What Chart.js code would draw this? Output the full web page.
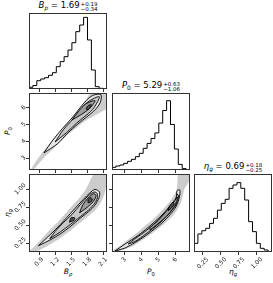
<!DOCTYPE html>
<html>
<head>
<meta charset="utf-8">
<script src="https://cdn.jsdelivr.net/npm/chart.js@4.4.1/dist/chart.umd.min.js"></script>
<style>
html, body { margin: 0; padding: 0; background: #fff; }
#fig { position: relative; width: 273px; height: 283px; overflow: hidden; font-family: 'DejaVu Sans', sans-serif; color: #000; }
#fig canvas { position: absolute; }
.ttl { position: absolute; text-align: center; font-size: 8.5px; line-height: 10px; white-space: nowrap; }
.lbl { position: absolute; font-size: 7.5px; line-height: 9px; white-space: nowrap; transform: translate(-50%, -50%); }
.lbl.rot { transform: translate(-50%, -50%) rotate(-90deg); }
.ss { display: inline-block; vertical-align: -3px; font-size: 5.5px; line-height: 5px; text-align: left; margin-left: 1px; }
.ss span { display: block; }
sub { font-size: 70%; vertical-align: -2px; line-height: 0; }
</style>
</head>
<body>
<div id="fig">
  <div class="ttl" style="left:29px;top:0px;width:78px"><i>B<sub>p</sub></i> = 1.69<span class="ss"><span>+0.19</span><span>&minus;0.34</span></span></div>
  <div class="ttl" style="left:112px;top:80px;width:78px"><i>P</i><sub>0</sub> = 5.29<span class="ss"><span>+0.63</span><span>&minus;1.06</span></span></div>
  <div class="ttl" style="left:194px;top:161px;width:78px"><i>&eta;<sub>g</sub></i> = 0.69<span class="ss"><span>+0.18</span><span>&minus;0.25</span></span></div>
  <div class="lbl" style="left:68px;top:271px"><i>B<sub>p</sub></i></div>
  <div class="lbl" style="left:151px;top:271px"><i>P</i><sub>0</sub></div>
  <div class="lbl" style="left:233px;top:271px"><i>&eta;<sub>g</sub></i></div>
  <div class="lbl rot" style="left:7px;top:131px"><i>P</i><sub>0</sub></div>
  <div class="lbl rot" style="left:7px;top:213px"><i>&eta;<sub>g</sub></i></div>
</div>
<script>
// axis ranges and ticks
const bpRange = [0.71, 2.175];
const p0Range = [2.29, 6.88];
const etaRange = [0.125, 1.21];
const bpTicks = [0.9, 1.2, 1.5, 1.8, 2.1];
const bpTickLabels = ['0.9', '1.2', '1.5', '1.8', '2.1'];
const p0Ticks = [3, 4, 5, 6];
const p0TickLabels = ['3', '4', '5', '6'];
const etaTicks = [0.25, 0.5, 0.75, 1.0];
const etaTickLabels = ['0.25', '0.50', '0.75', '1.00'];

// 1D histograms (20 bins over each range)
const bpCounts = [1, 2.5, 5, 12, 14.5, 16.4, 19.8, 23.6, 32.3, 39.6, 46.8, 56.4, 67, 83, 92.6, 103.7, 71, 27.5, 3.4, 1];
const p0Counts = [1, 3.8, 5.7, 7.1, 9.5, 12.4, 15.2, 19, 23.8, 31, 38, 45, 53, 67, 85, 99, 65, 30, 8, 2];
const etaCounts = [3.8, 12.2, 25.4, 30, 33.4, 40.4, 47.5, 59, 68.6, 74.3, 89.8, 94.5, 97.8, 89.8, 73.3, 42.8, 28.7, 12.2, 5.2, 2.8];

// B_p vs P_0 : sample cloud and contour outlines
const bpP0Cloud = [[0.74,2.3],[0.85,2.85],[1.0,3.5],[1.3,4.6],[1.5,5.35],[1.76,6.35],[1.9,7.0],[2.25,7.0],[2.25,6.2],[2.04,5.7],[1.76,5.2],[1.5,4.55],[1.29,3.95],[1.0,3.05],[0.85,2.5],[0.77,2.24],[0.74,2.3]];
const bpP0Outer = [[0.99,3.31],[1.16,4.08],[1.34,4.77],[1.52,5.40],[1.67,6.00],[1.79,6.45],[1.92,6.75],[2.06,6.78],[2.05,6.33],[1.96,5.91],[1.82,5.52],[1.63,5.04],[1.43,4.47],[1.24,3.84],[0.99,3.31]];
const bpP0Mid = [[1.20,3.96],[1.36,4.71],[1.54,5.34],[1.69,5.93],[1.82,6.36],[2.03,6.66],[1.93,6.00],[1.80,5.59],[1.61,5.10],[1.42,4.53],[1.20,3.96]];
const bpP0Inner = [[1.52,5.28],[1.64,5.79],[1.78,6.24],[1.95,6.42],[1.86,6.00],[1.70,5.61],[1.52,5.28]];
const bpP0Core = [[1.78,5.94],[1.82,6.12],[1.88,6.18],[1.86,6.00],[1.82,5.88],[1.78,5.94]];

// B_p vs eta_g
const bpEtaCloud = [[0.72,0.10],[0.9,0.15],[1.1,0.23],[1.3,0.32],[1.5,0.43],[1.7,0.55],[1.85,0.64],[1.98,0.73],[2.08,0.84],[2.15,1.0],[2.15,1.3],[2.0,1.3],[1.88,1.15],[1.78,1.0],[1.66,0.88],[1.5,0.75],[1.3,0.58],[1.1,0.43],[0.95,0.31],[0.82,0.21],[0.72,0.14],[0.72,0.10]];
const bpEtaOuter = [[0.887,0.213],[1.106,0.292],[1.294,0.375],[1.481,0.476],[1.669,0.593],[1.825,0.685],[1.95,0.778],[2.031,0.894],[2.031,0.963],[1.95,0.995],[1.856,0.949],[1.731,0.857],[1.575,0.731],[1.388,0.579],[1.2,0.431],[1.013,0.301],[0.887,0.213]];
const bpEtaMid = [[1.1,0.31],[1.3,0.405],[1.5,0.515],[1.68,0.62],[1.83,0.71],[1.95,0.81],[2.0,0.90],[1.97,0.955],[1.9,0.95],[1.8,0.89],[1.68,0.79],[1.52,0.65],[1.35,0.53],[1.2,0.41],[1.1,0.31]];
const bpEtaInner = [[1.66,0.67],[1.8,0.745],[1.92,0.83],[1.97,0.91],[1.92,0.935],[1.82,0.875],[1.72,0.78],[1.66,0.67]];
const bpEtaCore = [[1.82,0.81],[1.87,0.82],[1.9,0.86],[1.86,0.88],[1.82,0.85],[1.82,0.81]];
const bpEtaIsland = [[1.47,0.54],[1.55,0.565],[1.57,0.6],[1.5,0.6],[1.47,0.54]];

// P_0 vs eta_g
const p0EtaCloud = [[2.2,0.10],[3.0,0.16],[3.6,0.22],[4.2,0.31],[4.8,0.41],[5.3,0.5],[5.75,0.6],[6.1,0.7],[6.4,0.85],[6.55,1.0],[6.8,1.1],[6.9,1.3],[6.25,1.3],[6.1,1.0],[5.9,0.9],[5.6,0.8],[5.2,0.7],[4.8,0.6],[4.3,0.5],[3.8,0.4],[3.3,0.31],[2.8,0.22],[2.3,0.14],[2.2,0.10]];
const p0EtaOuter = [[2.47,0.139],[3.06,0.181],[3.65,0.257],[4.24,0.347],[4.82,0.451],[5.29,0.542],[5.71,0.646],[6.06,0.757],[6.24,0.875],[6.29,0.986],[6.12,0.979],[6.06,0.882],[5.71,0.771],[5.29,0.653],[4.82,0.549],[4.24,0.431],[3.65,0.326],[3.06,0.236],[2.47,0.139]];
const p0EtaMid = [[3.24,0.236],[3.65,0.272],[4.24,0.367],[4.82,0.474],[5.29,0.567],[5.71,0.674],[6.06,0.785],[6.21,0.903],[6.12,0.931],[6.06,0.854],[5.71,0.743],[5.29,0.628],[4.82,0.526],[4.24,0.411],[3.65,0.311],[3.24,0.236]];
const p0EtaInner = [[4.53,0.431],[5.12,0.542],[5.59,0.646],[6.0,0.778],[6.15,0.889],[5.88,0.806],[5.47,0.688],[5.0,0.563],[4.53,0.465],[4.53,0.431]];
const p0EtaCore = [[5.6,0.7],[5.8,0.74],[5.95,0.8],[5.85,0.81],[5.65,0.75],[5.6,0.7]];

// layout of the grid
const panelX = [29, 112, 194];
const panelY = [13, 93, 174];
const panelW = 78;
const panelH = [76, 77, 78];
const histMax = 110;
const shades = ['#e6e6e6', '#c6c6c6', '#9c9c9c', '#505050'];
const fig = document.getElementById('fig');

const frame = {
  id: 'frame',
  afterDatasetsDraw(chart) {
    const a = chart.chartArea, c = chart.ctx;
    c.save();
    c.strokeStyle = '#333';
    c.lineWidth = 1;
    c.strokeRect(a.left + 0.5, a.top + 0.5, a.right - a.left - 1, a.bottom - a.top - 1);
    c.restore();
  }
};

function pts(arr) {
  return arr.map(p => ({ x: p[0], y: p[1] }));
}

function axis(range, ticks, labels, showTicks, showLabels, size, isX, offset) {
  return {
    type: 'linear',
    min: range[0],
    max: range[1],
    afterBuildTicks: s => { s.ticks = ticks.map(v => ({ value: v })); },
    afterFit: s => {
      if (isX) s.height = size; else s.width = size;
      s.paddingLeft = 0; s.paddingRight = 0; s.paddingTop = 0; s.paddingBottom = 0;
    },
    grid: { display: showTicks, drawOnChartArea: false, drawTicks: true, tickLength: 3, color: '#333', lineWidth: 1 },
    border: { display: false },
    ticks: {
      display: showLabels, autoSkip: false, minRotation: 45, maxRotation: 45, padding: 1,
      labelOffset: offset, color: '#222',
      font: { family: 'DejaVu Sans', size: 6 },
      callback: (v, i) => labels[i]
    }
  };
}

function histSet(counts, range) {
  const w = (range[1] - range[0]) / counts.length;
  const data = [{ x: range[0], y: 0 }];
  counts.forEach((c, i) => data.push({ x: range[0] + i * w, y: c }));
  data.push({ x: range[1], y: 0 });
  return [{ data, showLine: true, stepped: 'after', borderColor: '#000', borderWidth: 1, pointRadius: 0, fill: false }];
}

function densitySet(cloud, levels) {
  const ds = [{ data: pts(cloud), showLine: true, fill: 'shape', backgroundColor: 'rgba(0,0,0,0.2)', borderWidth: 0, pointRadius: 0, tension: 0.3, order: 10 }];
  levels.forEach((lv, i) => {
    ds.push({ data: pts(lv), showLine: true, fill: 'shape', backgroundColor: shades[Math.min(i, 3)], borderColor: '#000', borderWidth: 0.9, pointRadius: 0, tension: 0.3, order: 9 - i });
  });
  return ds;
}

function panel(col, row, datasets, xScale, yScale, padL) {
  const padB = row === 2 ? 31 : 4;
  const cv = document.createElement('canvas');
  cv.width = padL + panelW;
  cv.height = panelH[row] + padB;
  cv.style.left = (panelX[col] - padL) + 'px';
  cv.style.top = panelY[row] + 'px';
  fig.appendChild(cv);
  new Chart(cv, {
    type: 'scatter',
    data: { datasets },
    options: {
      responsive: false,
      animation: false,
      devicePixelRatio: 1,
      layout: { padding: { left: yScale.display === false ? padL : 0 } },
      elements: { line: { capBezierPoints: false } },
      plugins: { legend: { display: false }, tooltip: { enabled: false } },
      scales: { x: xScale, y: yScale }
    },
    plugins: [frame]
  });
}

const histY = { type: 'linear', display: false, min: 0, max: histMax };

// diagonal histograms
panel(0, 0, histSet(bpCounts, bpRange), axis(bpRange, bpTicks, bpTickLabels, true, false, 4, true, 0), histY, 0);
panel(1, 1, histSet(p0Counts, p0Range), axis(p0Range, p0Ticks, p0TickLabels, true, false, 4, true, 0), histY, 0);
panel(2, 2, histSet(etaCounts, etaRange), axis(etaRange, etaTicks, etaTickLabels, true, true, 31, true, 4.7), histY, 0);

// 2D panels
panel(0, 1, densitySet(bpP0Cloud, [bpP0Outer, bpP0Mid, bpP0Inner, bpP0Core]),
  axis(bpRange, bpTicks, bpTickLabels, true, false, 4, true, 0),
  axis(p0Range, p0Ticks, p0TickLabels, true, true, 29, false, -1.3), 29);
panel(0, 2, densitySet(bpEtaCloud, [bpEtaOuter, bpEtaMid, bpEtaInner, bpEtaCore, bpEtaIsland]),
  axis(bpRange, bpTicks, bpTickLabels, true, true, 31, true, 3.4),
  axis(etaRange, etaTicks, etaTickLabels, true, true, 29, false, -4.7), 29);
panel(1, 2, densitySet(p0EtaCloud, [p0EtaOuter, p0EtaMid, p0EtaInner, p0EtaCore]),
  axis(p0Range, p0Ticks, p0TickLabels, true, true, 31, true, 1.3),
  axis(etaRange, etaTicks, etaTickLabels, true, false, 4, false, 0), 4);
</script>
</body>
</html>
